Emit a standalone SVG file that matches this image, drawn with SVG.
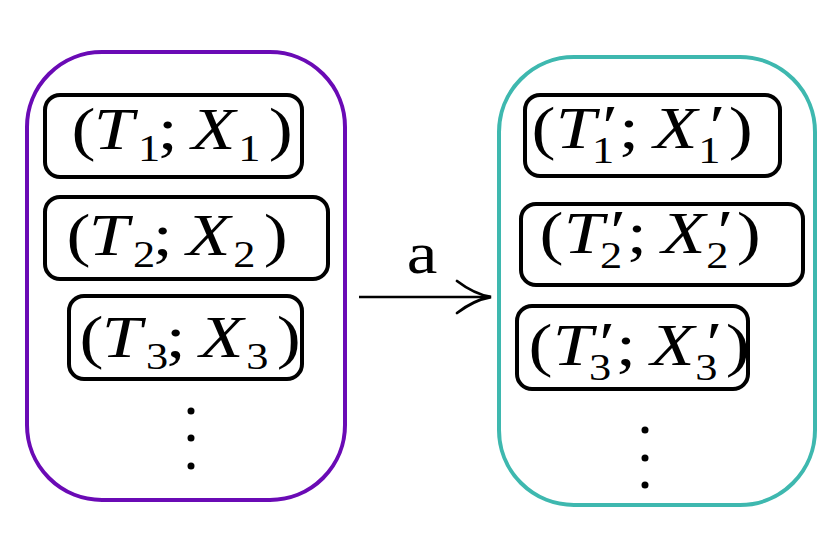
<svg xmlns="http://www.w3.org/2000/svg" width="836" height="541" viewBox="0 0 836 541">
<style>
.cont{fill:none;stroke-width:4}
.box{fill:#fff;stroke:#000;stroke-width:4}
.t{font-family:"Liberation Serif",serif;fill:#000;font-size:60px}
.i{font-style:italic}
.s{font-size:37px}
.dot{fill:#000}
</style>
<g id="left-set">
<rect class="cont" x="27" y="52" width="318" height="448" rx="75" ry="75" stroke="#6A0AB5"/>
</g>
<g id="left-1">
<rect class="box" x="45" y="95" width="257" height="82" rx="15"/>
<text class="t" transform="translate(75,149) scale(1.2,1)"><tspan x="-3" y="0">(</tspan><tspan class="i" x="15.6" y="0">T</tspan><tspan class="s" x="52.6" y="12">1</tspan><tspan x="69" y="0">;</tspan><tspan class="i" x="97" y="0">X</tspan><tspan class="s" x="136" y="12">1</tspan><tspan x="161.5" y="0">)</tspan></text>
</g>
<g id="left-2">
<rect class="box" x="45" y="197" width="283" height="82" rx="15"/>
<text class="t" transform="translate(70,255) scale(1.2,1)"><tspan x="-3" y="0">(</tspan><tspan class="i" x="15.6" y="0">T</tspan><tspan class="s" x="52.6" y="12">2</tspan><tspan x="69" y="0">;</tspan><tspan class="i" x="97" y="0">X</tspan><tspan class="s" x="136" y="12">2</tspan><tspan x="161.5" y="0">)</tspan></text>
</g>
<g id="left-3">
<rect class="box" x="69" y="296" width="233" height="83" rx="15"/>
<text class="t" transform="translate(83,357) scale(1.2,1)"><tspan x="-3" y="0">(</tspan><tspan class="i" x="15.6" y="0">T</tspan><tspan class="s" x="52.6" y="12">3</tspan><tspan x="69" y="0">;</tspan><tspan class="i" x="97" y="0">X</tspan><tspan class="s" x="136" y="12">3</tspan><tspan x="161.5" y="0">)</tspan></text>
<circle class="dot" cx="191" cy="411" r="3.5"/>
<circle class="dot" cx="191" cy="438" r="3.5"/>
<circle class="dot" cx="191" cy="466" r="3.5"/>
</g>
<g id="right-set">
<rect class="cont" x="499" y="57" width="316" height="448" rx="75" ry="75" stroke="#3EB8AF"/>
</g>
<g id="right-1">
<rect class="box" x="525" y="95" width="255" height="81" rx="15"/>
<text class="t" transform="translate(535,148) scale(1.2,1)"><tspan x="-3" y="0">(</tspan><tspan class="i" x="17.2" y="0">T</tspan><tspan x="56" y="-2">′</tspan><tspan class="s" x="47.6" y="15">1</tspan><tspan x="70" y="0">;</tspan><tspan class="i" x="98.8" y="0">X</tspan><tspan x="145.5" y="-2">′</tspan><tspan class="s" x="136" y="15">1</tspan><tspan x="161.5" y="0">)</tspan></text>
</g>
<g id="right-2">
<rect class="box" x="521" y="204" width="282" height="81" rx="15"/>
<text class="t" transform="translate(543,253) scale(1.2,1)"><tspan x="-3" y="0">(</tspan><tspan class="i" x="17.2" y="0">T</tspan><tspan x="56" y="-2">′</tspan><tspan class="s" x="47.6" y="15">2</tspan><tspan x="70" y="0">;</tspan><tspan class="i" x="98.8" y="0">X</tspan><tspan x="145.5" y="-2">′</tspan><tspan class="s" x="136" y="15">2</tspan><tspan x="161.5" y="0">)</tspan></text>
</g>
<g id="right-3">
<rect class="box" x="517" y="306" width="231" height="83" rx="15"/>
<text class="t" transform="translate(532,365) scale(1.2,1)"><tspan x="-3" y="0">(</tspan><tspan class="i" x="17.2" y="0">T</tspan><tspan x="56" y="-2">′</tspan><tspan class="s" x="47.6" y="15">3</tspan><tspan x="70" y="0">;</tspan><tspan class="i" x="98.8" y="0">X</tspan><tspan x="145.5" y="-2">′</tspan><tspan class="s" x="136" y="15">3</tspan><tspan x="161.5" y="0">)</tspan></text>
<circle class="dot" cx="645" cy="430" r="3.5"/>
<circle class="dot" cx="645" cy="458" r="3.5"/>
<circle class="dot" cx="645" cy="485" r="3.5"/>
</g>
<g id="connectors">
<line x1="359" y1="297" x2="490" y2="297" stroke="#000" stroke-width="2.5"/>
<path d="M457,281 Q474,294 491,297 Q474,300 457,313" fill="none" stroke="#000" stroke-width="2.8" stroke-linecap="round"/>
<text class="t" x="422" y="273" font-size="56" text-anchor="middle" transform="translate(422,0) scale(1.15,1) translate(-422,0)">a</text>
</g>
</svg>
